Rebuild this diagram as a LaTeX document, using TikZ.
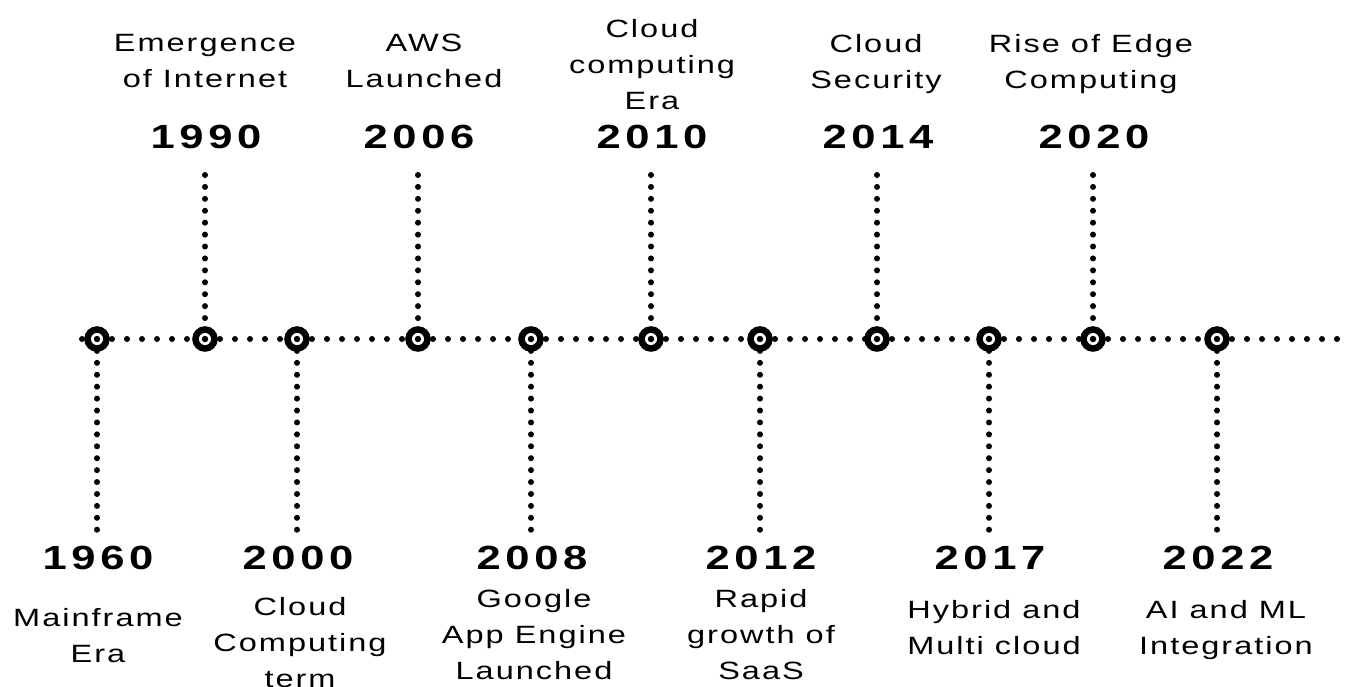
\documentclass[tikz,border=0pt]{standalone}
\usepackage{fontspec}
\setmainfont{Liberation Sans}
\newfontfamily\lblfont[FakeStretch=1.3,LetterSpace=8]{Liberation Sans}
\newfontfamily\yrfont[FakeStretch=1.3,LetterSpace=14]{Liberation Sans}
\usetikzlibrary{backgrounds}
\begin{document}
\begin{tikzpicture}[x=1pt,y=-1pt,
  evt/.style={circle,draw=black,line width=6.5pt,fill=white,minimum size=19pt,inner sep=0pt},
  hdots/.style={line width=6pt,line cap=round,dash pattern=on 0pt off 15pt},
  vdots/.style={line width=6pt,line cap=round,dash pattern=on 0pt off 11.92pt},
  yr/.style={font=\yrfont\bfseries\fontsize{33.5}{40}\selectfont,inner sep=0pt,anchor=base},
  lbl/.style={font=\lblfont\fontsize{25}{36}\selectfont,align=center,inner sep=0pt,anchor=north}]
\useasboundingbox (0,0) rectangle (1351,686);
% event markers
\foreach \i/\x in {1/97,2/205,3/297,4/418,5/531,6/651,7/760,8/877,9/989,10/1093,11/1217}{
  \node[evt] (c\i) at (\x,339) {};
  \fill (c\i.center) circle (3.2pt);
}
\coordinate (hs) at (82,339);
\coordinate (he) at (1351,339);
\begin{pgfonlayer}{background}
  \draw[hdots] (hs) -- (c1.center);
  \foreach \i/\j in {1/2,2/3,3/4,4/5,5/6,6/7,7/8,8/9,9/10,10/11}
    \draw[hdots] (c\i.center) -- (c\j.center);
  \draw[hdots] (c11.center) -- (he);
\end{pgfonlayer}
% events above the line
\foreach \i/\x/\yr/\lab/\lx/\ly in {
  2/205/1990/{Emergence\\of Internet}/205/34,
  4/418/2006/{AWS\\Launched}/424/34,
  6/651/2010/{Cloud\\computing\\Era}/652/19,
  8/877/2014/{Cloud\\Security}/876/34,
  10/1093/2020/{Rise of Edge\\Computing}/1091/34}{
  \coordinate (t\i) at (\x,175);
  \begin{pgfonlayer}{background}
    \draw[vdots] (t\i) -- (c\i.center);
  \end{pgfonlayer}
  \node[yr] (y\i) at (\x+1,148) {\yr};
  \node[lbl] (l\i) at (\lx,\ly) {\lab};
}
% events below the line
\foreach \i/\x/\yr/\lab/\lx/\ly in {
  1/97/1960/{Mainframe\\Era}/98/608,
  3/297/2000/{Cloud\\Computing\\term}/300/597,
  5/531/2008/{Google\\App Engine\\Launched}/534/589,
  7/760/2012/{Rapid\\growth of\\SaaS}/761/589,
  9/989/2017/{Hybrid and\\Multi cloud}/994/600,
  11/1217/2022/{AI and ML\\Integration}/1226/600}{
  \coordinate (b\i) at (\x,531);
  \begin{pgfonlayer}{background}
    \draw[vdots] (c\i.center) -- (b\i);
  \end{pgfonlayer}
  \node[yr] (y\i) at (\x+1,569) {\yr};
  \node[lbl] (l\i) at (\lx,\ly) {\lab};
}
\end{tikzpicture}
\end{document}
